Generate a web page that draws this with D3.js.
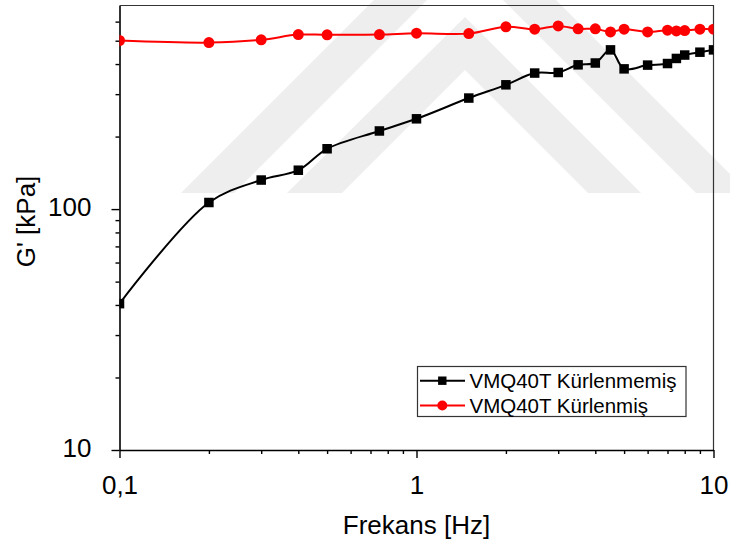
<!DOCTYPE html>
<html>
<head>
<meta charset="utf-8">
<script src="https://cdn.jsdelivr.net/npm/d3@7"></script>
<style>
  html, body { margin: 0; padding: 0; background: #fff; }
  svg { display: block; font-family: "Liberation Sans", Arial, sans-serif; }
</style>
</head>
<body>
<svg id="chart" width="730" height="547"></svg>
<script>
// Frequency sweep (Hz) and storage modulus G' (kPa)
const frequency = [0.1, 0.2, 0.3, 0.4, 0.5, 0.75, 1, 1.5, 2, 2.5, 3, 3.5, 4, 4.5, 5, 6, 7, 7.5, 8, 9, 10];
const uncured   = [40.5, 106.5, 132, 145, 178, 211, 237, 289, 328, 367, 369, 397, 404, 458, 382, 396, 402, 422, 436, 448, 458];
const cured     = [501, 491, 504, 530, 529, 530, 537, 535, 571, 558, 576, 560, 560, 544, 558, 544, 553, 549, 551, 558, 558];

const seriesNames = ["VMQ40T Kürlenmemiş", "VMQ40T Kürlenmiş"];
const seriesColors = ["#000000", "#ff0000"];

const xTickValues = [0.1, 1, 10];
const xTickLabels = ["0,1", "1", "10"];
const yTickValues = [10, 100];
const yTickLabels = ["10", "100"];
const xMinor = [0.2,0.3,0.4,0.5,0.6,0.7,0.8,0.9,2,3,4,5,6,7,8,9];
const yMinor = [20,30,40,50,60,70,80,90,200,300,400,500,600];

const xTitle = "Frekans [Hz]";
const yTitle = "G' [kPa]";

const svg = d3.select("#chart");
const plot = { left: 119.5, right: 713.5, top: 5.5, bottom: 450 };

const x = d3.scaleLog().domain([0.1, 10]).range([plot.left, plot.right]);
const y = d3.scaleLog().domain([10, 700]).range([plot.bottom, plot.top]);

// faint background chevrons
const wm = svg.append("g").attr("fill", "#eeeeee");
const chevrons = [
  [[287,193],[465,17],[641,193],[588,193],[465,70],[342,193]],
  [[181,193],[465,-91],[749,193],[696,193],[465,-38],[234,193]]
];
chevrons.forEach(p => wm.append("polygon").attr("points", p.map(q => q.join(",")).join(" ")));

// clip for data marks
svg.append("defs").append("clipPath").attr("id", "clip")
  .append("rect")
  .attr("x", plot.left).attr("y", plot.top)
  .attr("width", plot.right - plot.left).attr("height", plot.bottom - plot.top);

// frame (top & right)
svg.append("path")
  .attr("d", `M${plot.left},${plot.top}H${plot.right}V${plot.bottom}`)
  .attr("fill", "none").attr("stroke", "#333").attr("stroke-width", 1.2);

// axes
const xAxis = svg.append("g").attr("transform", `translate(0,${plot.bottom})`)
  .call(d3.axisBottom(x).tickValues(xTickValues).tickSize(8).tickSizeOuter(0)
    .tickFormat((d, i) => xTickLabels[i]));
const xAxisMinor = svg.append("g").attr("transform", `translate(0,${plot.bottom})`)
  .call(d3.axisBottom(x).tickValues(xMinor).tickSize(4).tickSizeOuter(0).tickFormat(""));
const yAxis = svg.append("g").attr("transform", `translate(${plot.left},0)`)
  .call(d3.axisLeft(y).tickValues(yTickValues).tickSize(8).tickSizeOuter(0)
    .tickFormat((d, i) => yTickLabels[i]));
const yAxisMinor = svg.append("g").attr("transform", `translate(${plot.left},0)`)
  .call(d3.axisLeft(y).tickValues(yMinor).tickSize(4).tickSizeOuter(0).tickFormat(""));

[xAxis, xAxisMinor, yAxis, yAxisMinor].forEach(g => {
  g.select(".domain").attr("stroke", "#000").attr("stroke-width", 1.6);
  g.selectAll(".tick line").attr("stroke", "#000").attr("stroke-width", 1.4);
});
xAxisMinor.select(".domain").remove();
yAxisMinor.select(".domain").remove();

xAxis.selectAll(".tick text")
  .attr("font-size", 26).attr("fill", "#000")
  .attr("font-family", "'Liberation Sans', Arial, sans-serif")
  .attr("dy", null).attr("y", 44);
yAxis.selectAll(".tick text")
  .attr("font-size", 26).attr("fill", "#000")
  .attr("font-family", "'Liberation Sans', Arial, sans-serif")
  .attr("dy", null).attr("x", -28).attr("y", 6.5);

// axis titles
svg.append("text")
  .attr("x", (plot.left + plot.right) / 2).attr("y", 534)
  .attr("text-anchor", "middle").attr("font-size", 26).attr("fill", "#000")
  .text(xTitle);
svg.append("text")
  .attr("transform", `translate(34.5,${221.5}) rotate(-90)`)
  .attr("text-anchor", "middle").attr("font-size", 26).attr("fill", "#000")
  .text(yTitle);

// data
const series = [
  frequency.map((f, i) => ({ f, g: uncured[i] })),
  frequency.map((f, i) => ({ f, g: cured[i] }))
];

const line = d3.line()
  .x(d => x(d.f)).y(d => y(d.g))
  .curve(d3.curveCatmullRom.alpha(0.5));

const marks = svg.append("g").attr("clip-path", "url(#clip)");

series.forEach((data, s) => {
  marks.append("path")
    .datum(data)
    .attr("d", line)
    .attr("fill", "none")
    .attr("stroke", seriesColors[s])
    .attr("stroke-width", 2);
});

// squares for uncured
marks.append("g").selectAll("rect")
  .data(series[0]).join("rect")
  .attr("x", d => x(d.f) - 4.75).attr("y", d => y(d.g) - 4.75)
  .attr("width", 9.5).attr("height", 9.5)
  .attr("fill", seriesColors[0]);

// circles for cured
marks.append("g").selectAll("circle")
  .data(series[1]).join("circle")
  .attr("cx", d => x(d.f)).attr("cy", d => y(d.g))
  .attr("r", 5.5)
  .attr("fill", seriesColors[1]);

// legend
const legend = svg.append("g");
legend.append("rect")
  .attr("x", 417.5).attr("y", 366.5).attr("width", 268.5).attr("height", 50)
  .attr("fill", "#fff").attr("stroke", "#333").attr("stroke-width", 1.2);

const rowY = [380.7, 405.5];
seriesNames.forEach((name, i) => {
  const gy = rowY[i];
  legend.append("line")
    .attr("x1", 420).attr("x2", 465).attr("y1", gy).attr("y2", gy)
    .attr("stroke", seriesColors[i]).attr("stroke-width", 2);
  if (i === 0) {
    legend.append("rect")
      .attr("x", 442.3 - 4.2).attr("y", gy - 4.2).attr("width", 8.4).attr("height", 8.4)
      .attr("fill", seriesColors[i]);
  } else {
    legend.append("circle")
      .attr("cx", 442.3).attr("cy", gy).attr("r", 5)
      .attr("fill", seriesColors[i]);
  }
  legend.append("text")
    .attr("x", 469.5).attr("y", gy + 7)
    .attr("font-size", 20.5).attr("fill", "#000")
    .text(name);
});
</script>
</body>
</html>
